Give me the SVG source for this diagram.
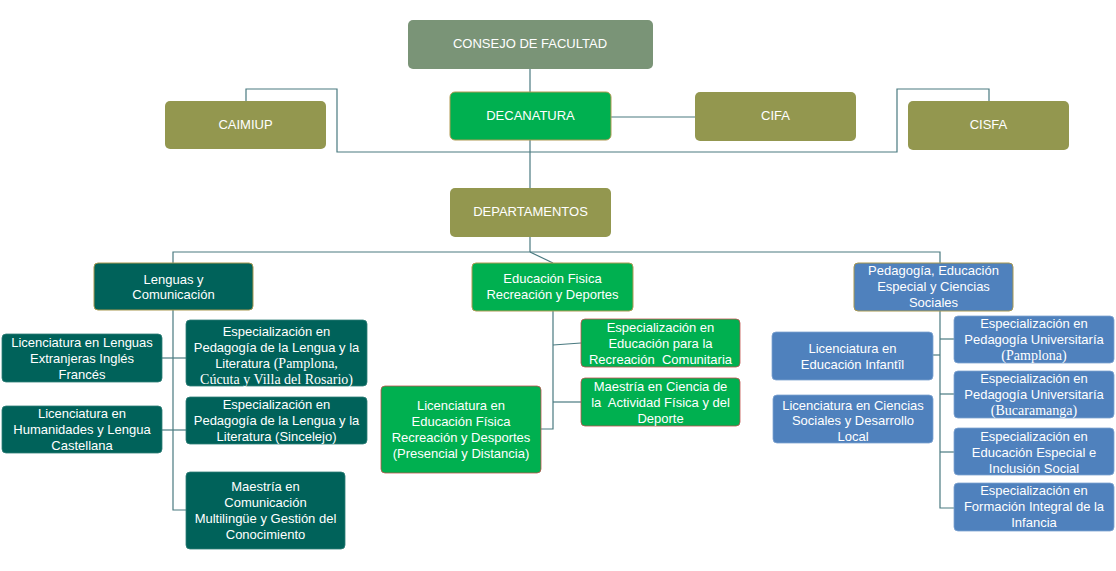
<svg xmlns="http://www.w3.org/2000/svg" width="1116" height="571" viewBox="0 0 1116 571">
<style>
text{font-family:"Liberation Sans",Arial,sans-serif;font-size:13px;fill:#ffffff;text-anchor:middle}
.s{font-family:"Liberation Serif","Times New Roman",serif;font-size:14px}
.p{white-space:pre}
.con path,.con line{fill:none;stroke:#4A7A80;stroke-width:1.2}
.consejo{fill:#7A9477}
.olive{fill:#93974F}
.green{fill:#00B050;stroke:#B09A52;stroke-width:1}
.greenr{fill:#00B050;stroke:#C0504D;stroke-width:0.8}
.teal{fill:#00625A;stroke:#A8974E;stroke-width:1}
.teal2{fill:#00625A;stroke:#2E7D76;stroke-width:0.8}
.blue{fill:#4F81BD;stroke:#A8974E;stroke-width:1}
.blue2{fill:#4F81BD;stroke:#7FA3D0;stroke-width:0.8}
</style>
<g class="con" id="connectors">
<line x1="530" y1="69" x2="530" y2="92"/>
<line x1="530" y1="140" x2="530" y2="188"/>
<line x1="611" y1="117" x2="695" y2="117"/>
<path d="M246 101V89H337V152H897V89H989V101"/>
<line x1="530" y1="237" x2="530" y2="252"/>
<path d="M173 263V252H940V263"/>
<line x1="530" y1="252" x2="553" y2="263"/>
<path d="M173 310V510H186"/>
<line x1="162" y1="358" x2="186" y2="358"/>
<line x1="162" y1="430" x2="186" y2="430"/>
<path d="M553 311V429H541"/>
<line x1="553" y1="345" x2="581" y2="343"/>
<line x1="553" y1="402" x2="581" y2="402"/>
<path d="M940 311V508H954"/>
<line x1="940" y1="339" x2="954" y2="339"/>
<line x1="933" y1="355" x2="940" y2="355"/>
<line x1="940" y1="394" x2="954" y2="394"/>
<line x1="940" y1="452" x2="954" y2="452"/>
</g>
<g id="consejo"><rect class="consejo" x="408" y="20" width="245" height="49" rx="5"/><text x="530" y="48">CONSEJO DE FACULTAD</text></g>
<g id="caimiup"><rect class="olive" x="165" y="101" width="161" height="48" rx="5"/><text x="245.5" y="129">CAIMIUP</text></g>
<g id="decanatura"><rect class="green" x="450" y="92" width="161" height="48" rx="5"/><text x="530.5" y="120">DECANATURA</text></g>
<g id="cifa"><rect class="olive" x="695" y="92" width="161" height="49" rx="5"/><text x="775.5" y="119.5">CIFA</text></g>
<g id="cisfa"><rect class="olive" x="908" y="101" width="161" height="49" rx="5"/><text x="988.5" y="128.5">CISFA</text></g>
<g id="departamentos"><rect class="olive" x="450" y="188" width="161" height="49" rx="5"/><text x="530.5" y="215.5">DEPARTAMENTOS</text></g>
<g id="lenguas"><rect class="teal" x="94" y="263" width="159" height="47" rx="4"/><text x="173.5" y="283.5">Lenguas y</text><text x="173.5" y="299">Comunicación</text></g>
<g id="lic-lenguas"><rect class="teal2" x="2" y="334" width="160" height="48" rx="4"/><text x="82" y="347">Licenciatura en Lenguas</text><text x="82" y="363">Extranjeras Inglés</text><text x="82" y="379">Francés</text></g>
<g id="lic-humanidades"><rect class="teal2" x="2" y="406" width="160" height="47" rx="4"/><text x="82" y="418">Licenciatura en</text><text x="82" y="434">Humanidades y Lengua</text><text x="82" y="449.5">Castellana</text></g>
<g id="esp-lengua-pamplona"><rect class="teal2" x="186" y="320" width="181" height="66" rx="4"/><text x="276.5" y="335.5">Especialización en</text><text x="276.5" y="351.5">Pedagogía de la Lengua y la</text><text x="276.5" y="367.5">Literatura <tspan class="s">(Pamplona,</tspan></text><text class="s" x="276.5" y="383.5">Cúcuta y Villa del Rosario)</text></g>
<g id="esp-lengua-sincelejo"><rect class="teal2" x="186" y="397" width="181" height="47" rx="4"/><text x="276.5" y="409">Especialización en</text><text x="276.5" y="425">Pedagogía de la Lengua y la</text><text x="276.5" y="441">Literatura (Sincelejo)</text></g>
<g id="maestria-comunicacion"><rect class="teal2" x="186" y="472" width="159" height="77" rx="4"/><text x="265.5" y="491">Maestría en</text><text x="265.5" y="507">Comunicación</text><text x="265.5" y="523">Multilingüe y Gestión del</text><text x="265.5" y="539">Conocimiento</text></g>
<g id="educacion-fisica"><rect class="green" x="472" y="263" width="161" height="48" rx="4"/><text x="552.5" y="283">Educación Fisica</text><text x="552.5" y="299">Recreación y Deportes</text></g>
<g id="esp-recreacion"><rect class="greenr" x="581" y="319" width="159" height="48" rx="4"/><text x="660.5" y="332">Especialización en</text><text x="660.5" y="348">Educación para la</text><text class="p" xml:space="preserve" x="660.5" y="364">Recreación  Comunitaria</text></g>
<g id="maestria-actividad"><rect class="greenr" x="581" y="378" width="159" height="48" rx="4"/><text x="660.5" y="391">Maestría en Ciencia de</text><text class="p" xml:space="preserve" x="660.5" y="407">la  Actividad Física y del</text><text x="660.5" y="423">Deporte</text></g>
<g id="lic-educacion-fisica"><rect class="greenr" x="381" y="386" width="160" height="87" rx="4"/><text x="461" y="410">Licenciatura en</text><text x="461" y="426">Educación Física</text><text x="461" y="442">Recreación y Desportes</text><text x="461" y="458">(Presencial y Distancia)</text></g>
<g id="pedagogia"><rect class="blue" x="854" y="263" width="159" height="48" rx="4"/><text x="933.5" y="275">Pedagogía, Educación</text><text x="933.5" y="291">Especial y Ciencias</text><text x="933.5" y="307">Sociales</text></g>
<g id="lic-infantil"><rect class="blue2" x="772" y="332" width="161" height="48" rx="4"/><text x="852.5" y="353">Licenciatura en</text><text x="852.5" y="369">Educación Infantîl</text></g>
<g id="lic-ciencias-sociales"><rect class="blue2" x="773" y="395" width="160" height="48" rx="4"/><text x="853" y="409.5">Licenciatura en Ciencias</text><text x="853" y="425">Sociales y Desarrollo</text><text x="853" y="440.5">Local</text></g>
<g id="esp-universitaria-pamplona"><rect class="blue2" x="954" y="316" width="160" height="47" rx="4"/><text x="1034" y="328">Especialización en</text><text x="1034" y="344">Pedagogía Universitaría</text><text class="s" x="1034" y="360">(Pamplona)</text></g>
<g id="esp-universitaria-bucaramanga"><rect class="blue2" x="954" y="371" width="160" height="47" rx="4"/><text x="1034" y="383">Especialización en</text><text x="1034" y="399">Pedagogía Universitaría</text><text class="s" x="1034" y="415">(Bucaramanga)</text></g>
<g id="esp-educacion-especial"><rect class="blue2" x="954" y="428" width="160" height="47" rx="4"/><text x="1034" y="440.5">Especialización en</text><text x="1034" y="457">Educación Especial e</text><text x="1034" y="473">Inclusión Social</text></g>
<g id="esp-formacion-infancia"><rect class="blue2" x="954" y="483" width="160" height="48" rx="4"/><text x="1034" y="495">Especialización en</text><text x="1034" y="511">Formación Integral de la</text><text x="1034" y="527">Infancia</text></g>
</svg>
